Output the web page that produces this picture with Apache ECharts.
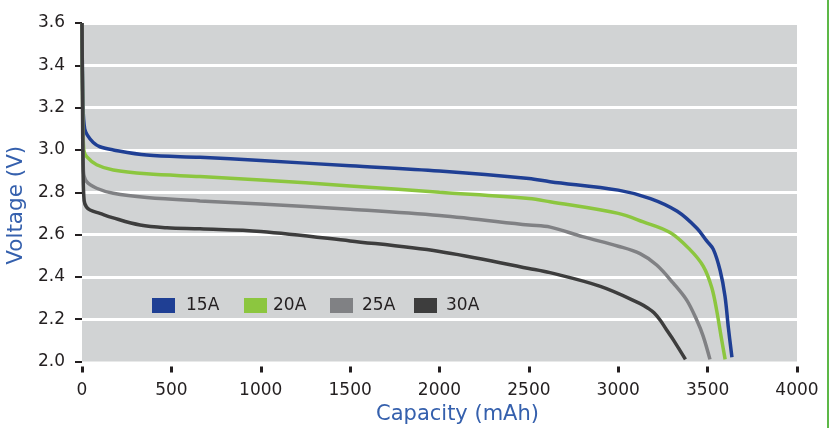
<!DOCTYPE html>
<html>
<head>
<meta charset="utf-8">
<script src="https://cdn.jsdelivr.net/npm/echarts@6/dist/echarts.min.js"></script>
<style>html,body{margin:0;padding:0;background:#fff}#c{width:833px;height:428px}</style>
</head>
<body>
<div id="c"></div>
<script>
var seriesNames = ['15A', '20A', '25A', '30A'];
var xTicks = [0, 500, 1000, 1500, 2000, 2500, 3000, 3500, 4000];
var yTicks = [2.0, 2.2, 2.4, 2.6, 2.8, 3.0, 3.2, 3.4, 3.6];
var data15A = [[0,3.6],[6,3.2],[15,3.1],[30,3.07],[63,3.035],[100,3.015],[175,3.0],[362,2.976],[660,2.965],[1000,2.95],[1500,2.925],[2000,2.9],[2500,2.865],[2618,2.85],[3000,2.81],[3180,2.77],[3330,2.71],[3440,2.63],[3495,2.57],[3532,2.53],[3570,2.43],[3597,2.31],[3616,2.16],[3636,2.02]];
var data20A = [[0,3.6],[4,3.2],[10,3.0],[26,2.968],[82,2.93],[175,2.905],[362,2.887],[660,2.874],[1000,2.858],[1500,2.83],[2000,2.8],[2500,2.77],[2618,2.755],[3000,2.7],[3140,2.66],[3290,2.61],[3400,2.53],[3476,2.45],[3523,2.35],[3551,2.24],[3575,2.12],[3598,2.01]];
var data25A = [[0,3.6],[4,3.2],[8,2.9],[26,2.85],[82,2.819],[175,2.795],[362,2.775],[660,2.759],[1000,2.745],[1500,2.72],[2000,2.69],[2500,2.645],[2620,2.635],[2800,2.59],[3000,2.545],[3122,2.51],[3215,2.456],[3308,2.37],[3383,2.29],[3439,2.196],[3475,2.12],[3513,2.01]];
var data30A = [[0,3.6],[3,3.2],[6,2.9],[12,2.76],[25,2.73],[45,2.716],[100,2.7],[170,2.68],[325,2.645],[475,2.632],[660,2.627],[1000,2.615],[1500,2.57],[2000,2.52],[2500,2.44],[2618,2.42],[2900,2.355],[3120,2.275],[3170,2.25],[3200,2.23],[3235,2.195],[3270,2.15],[3310,2.1],[3376,2.01]];
var seriesData = [data15A, data20A, data25A, data30A];
var colors = ['#1f3f94', '#8cc63f', '#808184', '#3d3d3d'];

var FONT = 'DejaVu Sans';
var chart = echarts.init(document.getElementById('c'));
var legendLefts = [147, 239, 325, 409];
var legendPad = [6, 1, 4, 4];
var legends = seriesNames.map(function (n, i) {
  return {
    data: [n], left: legendLefts[i], top: 292, orient: 'horizontal',
    icon: 'rect', itemWidth: 23, itemHeight: 15,
    textStyle: { fontFamily: FONT, fontSize: 17, color: '#231f20', padding: [0, 0, 0, legendPad[i]] }
  };
});
var splitColors = yTicks.map(function (v, i) { return i === 0 ? 'rgba(0,0,0,0)' : '#ffffff'; });
chart.setOption({
  animation: false,
  color: colors,
  legend: legends,
  grid: { left: 82, right: 36, top: 23, bottom: 66.5, show: true, backgroundColor: '#d1d3d4', borderWidth: 0, containLabel: false, outerBoundsMode: 'none' },
  xAxis: {
    type: 'value', min: xTicks[0], max: xTicks[xTicks.length - 1], interval: 500,
    offset: 5,
    name: 'Capacity (mAh)', nameLocation: 'middle', nameGap: 38,
    nameTextStyle: { fontFamily: FONT, fontSize: 21, color: '#3560ad', padding: [0, 0, 0, 36] },
    axisLine: { show: false },
    axisTick: { show: true, length: 6, lineStyle: { width: 3, color: '#231f20' } },
    axisLabel: { fontFamily: FONT, fontSize: 17, color: '#231f20', margin: 16, formatter: function (v) { return String(v); } },
    splitLine: { show: false }
  },
  yAxis: {
    type: 'value', min: yTicks[0], max: yTicks[yTicks.length - 1], interval: 0.2,
    offset: 7,
    name: 'Voltage (V)', nameLocation: 'middle', nameGap: 42,
    nameTextStyle: { fontFamily: FONT, fontSize: 21.5, color: '#3560ad', padding: [0, 26, 0, 0] },
    axisLine: { show: false },
    axisTick: { show: true, length: 7, lineStyle: { width: 2, color: '#231f20' } },
    axisLabel: { fontFamily: FONT, fontSize: 17, color: '#231f20', margin: 10, formatter: function (v) { return v.toFixed(1); } },
    splitLine: { show: true, lineStyle: { color: splitColors, width: 3 } }
  },
  graphic: [{ type: 'rect', shape: { x: 827, y: 0, width: 2, height: 428 }, style: { fill: '#5db847' }, silent: true }],
  series: seriesNames.map(function (n, i) {
    return {
      name: n, type: 'line', data: seriesData[i], showSymbol: false, symbol: 'none',
      smooth: 0.35,
      lineStyle: { width: 3.5, color: colors[i] }, z: 2 + i
    };
  })
});
</script>
</body>
</html>
